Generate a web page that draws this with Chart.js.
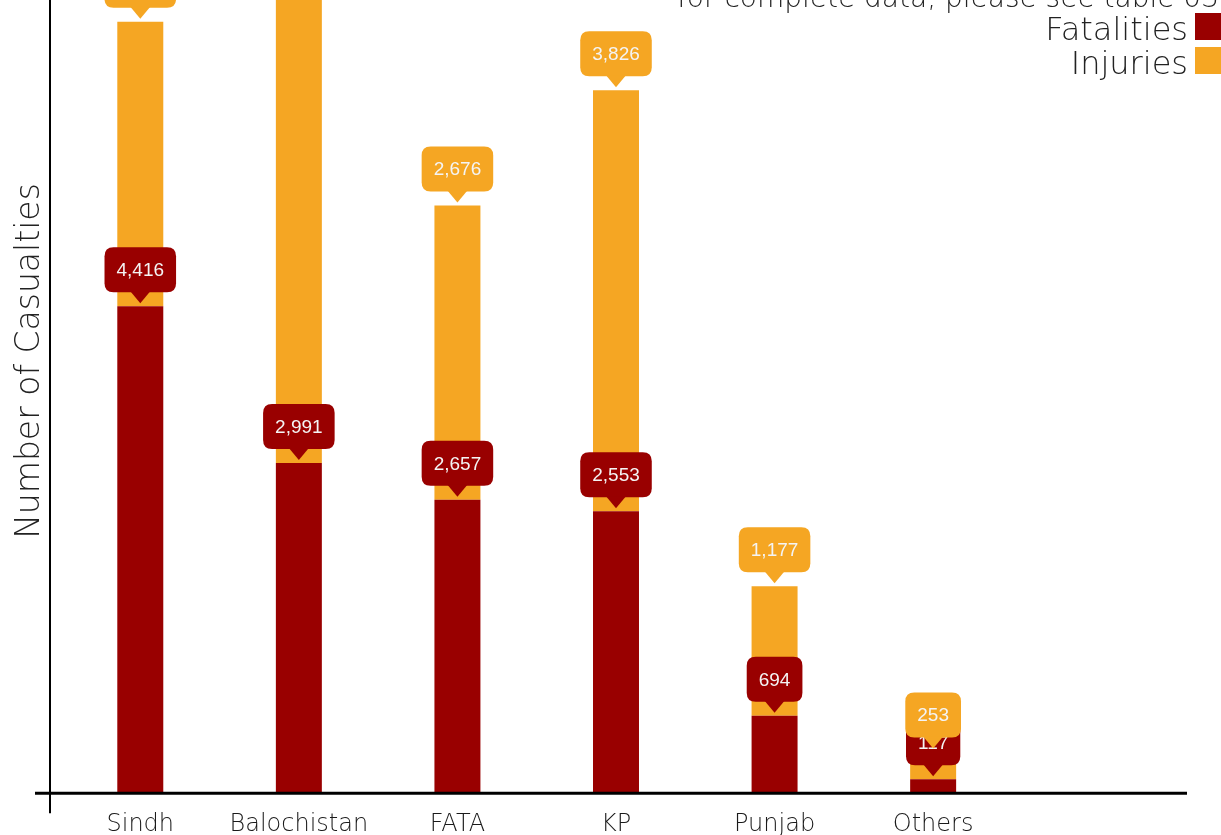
<!DOCTYPE html>
<html>
<head>
<meta charset="utf-8">
<script src="https://cdn.jsdelivr.net/npm/chart.js@4/dist/chart.umd.min.js"></script>
<style>
  html, body { margin: 0; padding: 0; background: #fff; overflow: hidden; }
</style>
</head>
<body>
<canvas id="casualtyChart" width="1221" height="835"></canvas>
<script>
// casualties by region, stacked: fatalities at the bottom, injuries on top
var regions = ['Sindh', 'Balochistan', 'FATA', 'KP', 'Punjab', 'Others', ''];
var fatalities = [4416, 2991, 2657, 2553, 694, 117];
var injuries = [2586, 4480, 2676, 3826, 1177, 253];
var seriesNames = ['Fatalities', 'Injuries'];
var seriesColors = ['#990000', '#f5a623'];
var yTitle = 'Number of Casualties';
var tableNote = 'for complete data, please see table 03';
var yMax = 7200;

var thinFont = '"DejaVu Sans", sans-serif';

function roundRect(ctx, x, y, w, h, r) {
    ctx.moveTo(x + r, y);
    ctx.lineTo(x + w - r, y);
    ctx.quadraticCurveTo(x + w, y, x + w, y + r);
    ctx.lineTo(x + w, y + h - r);
    ctx.quadraticCurveTo(x + w, y + h, x + w - r, y + h);
    ctx.lineTo(x + r, y + h);
    ctx.quadraticCurveTo(x, y + h, x, y + h - r);
    ctx.lineTo(x, y + r);
    ctx.quadraticCurveTo(x, y, x + r, y);
}

// axis lines, y title, legend and the value callouts
var decorations = {
    id: 'decorations',
    afterDatasetsDraw: function(chart) {
        var ctx = chart.ctx;
        var area = chart.chartArea;
        ctx.save();

        // axes
        ctx.strokeStyle = '#000';
        ctx.lineWidth = 2;
        ctx.beginPath();
        ctx.moveTo(area.left - 11, 0);
        ctx.lineTo(area.left - 11, area.bottom + 21);
        ctx.stroke();
        ctx.lineWidth = 3;
        ctx.beginPath();
        ctx.moveTo(area.left - 26, area.bottom + 1);
        ctx.lineTo(area.right + 16, area.bottom + 1);
        ctx.stroke();

        // y axis title
        ctx.save();
        ctx.translate(39, 361);
        ctx.rotate(-Math.PI / 2);
        ctx.fillStyle = '#222';
        ctx.font = '200 33px ' + thinFont;
        ctx.textAlign = 'center';
        ctx.textBaseline = 'alphabetic';
        ctx.fillText(yTitle, 0, 0);
        ctx.restore();

        // legend, text on the left of the swatch
        var right = chart.width;
        ctx.textAlign = 'right';
        ctx.textBaseline = 'alphabetic';
        ctx.fillStyle = '#222';
        ctx.font = '200 28px ' + thinFont;
        ctx.fillText(tableNote, right - 2, 7);
        chart.data.datasets.forEach(function(ds, i) {
            var base = 40 + i * 34;
            ctx.fillStyle = ds.backgroundColor;
            ctx.fillRect(right - 26, base - 27, 26, 27);
            ctx.fillStyle = '#222';
            ctx.font = '200 32px ' + thinFont;
            ctx.fillText(ds.label, right - 33, base);
        });

        // value callouts on top of each segment
        ctx.font = '19px "Liberation Sans", Arial, sans-serif';
        ctx.textAlign = 'center';
        ctx.textBaseline = 'middle';
        chart.data.datasets.forEach(function(ds, d) {
            var meta = chart.getDatasetMeta(d);
            meta.data.forEach(function(bar, i) {
                var v = ds.data[i];
                if (v === undefined || v === null) return;
                var text = v.toLocaleString('en-US');
                var w = ctx.measureText(text).width + 24;
                var h = 45;
                var tip = bar.y - 3;
                var bottom = tip - 11;
                ctx.fillStyle = ds.backgroundColor;
                ctx.beginPath();
                roundRect(ctx, bar.x - w / 2, bottom - h, w, h, 9);
                ctx.fill();
                ctx.beginPath();
                ctx.moveTo(bar.x - 10, bottom - 1);
                ctx.lineTo(bar.x + 10, bottom - 1);
                ctx.lineTo(bar.x, tip);
                ctx.closePath();
                ctx.fill();
                ctx.fillStyle = '#f4f4f4';
                ctx.fillText(text, bar.x, bottom - h / 2 + 1);
            });
        });

        ctx.restore();
    }
};

new Chart(document.getElementById('casualtyChart'), {
    type: 'bar',
    data: {
        labels: regions,
        datasets: [{
            label: seriesNames[0],
            data: fatalities,
            backgroundColor: seriesColors[0]
        }, {
            label: seriesNames[1],
            data: injuries,
            backgroundColor: seriesColors[1]
        }]
    },
    options: {
        responsive: false,
        animation: false,
        layout: { padding: { left: 61, right: 50, top: 0, bottom: -14 } },
        datasets: { bar: { barPercentage: 0.29, categoryPercentage: 1 } },
        plugins: {
            legend: { display: false },
            tooltip: { enabled: false }
        },
        scales: {
            x: {
                stacked: true,
                grid: { display: false },
                border: { display: false },
                ticks: {
                    color: '#1a1a1a',
                    padding: 10,
                    maxRotation: 0,
                    autoSkip: false,
                    font: { family: 'DejaVu Sans', size: 24, weight: 300 }
                }
            },
            y: {
                stacked: true,
                display: false,
                min: 0,
                max: yMax
            }
        }
    },
    plugins: [decorations]
});
</script>
</body>
</html>
